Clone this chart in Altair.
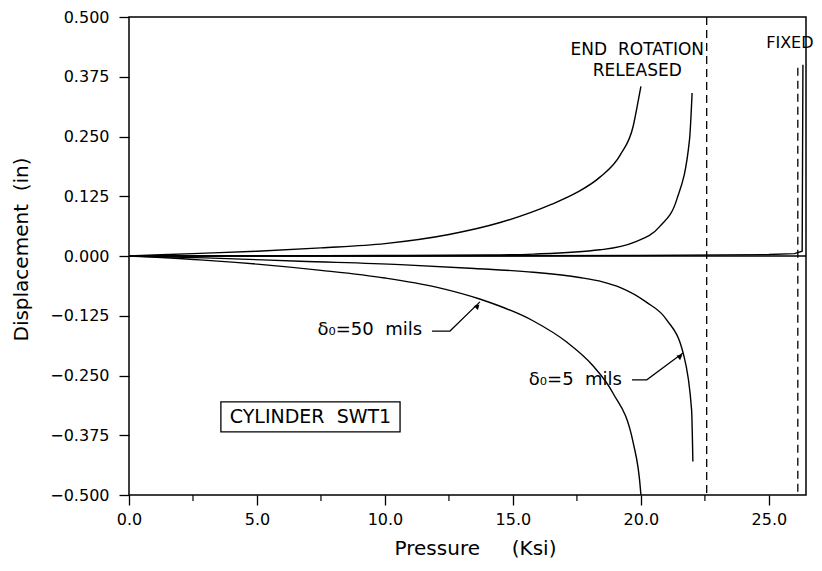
import altair as alt
import pandas as pd

# ---- data ----
# End rotation released, delta0 = 50 mils (positive branch)
rel50_up_x = [0, 2.5, 5, 7.5, 10, 12.5, 14.5, 16.5, 17.5, 18.4, 19.2, 19.7, 19.9, 20.0]
rel50_up_y = [0, 0.005, 0.010, 0.017, 0.026, 0.045, 0.070, 0.108, 0.133, 0.165, 0.212, 0.272, 0.326, 0.355]
# End rotation released, delta0 = 5 mils (positive branch)
rel5_up_x = [0, 5, 10, 14, 15.8, 18.4, 19.7, 20.74, 21.4, 21.9, 22.0]
rel5_up_y = [0, 0.0005, 0.001, 0.002, 0.004, 0.013, 0.028, 0.062, 0.118, 0.244, 0.341]
# End rotation released, delta0 = 50 mils (negative branch)
rel50_dn_x = [0, 2.77, 5, 7.5, 10, 12, 13.7, 15.8, 17.1, 18.1, 18.9, 19.7, 19.99, 20.0]
rel50_dn_y = [0, -0.008, -0.017, -0.030, -0.046, -0.065, -0.090, -0.136, -0.180, -0.228, -0.286, -0.391, -0.493, -0.5]
# End rotation released, delta0 = 5 mils (negative branch)
rel5_dn_x = [0, 3, 6.68, 10.6, 13.5, 15.8, 17.6, 18.5, 19.2, 20.2, 21.0, 21.65, 21.98, 22.03]
rel5_dn_y = [0, -0.004, -0.011, -0.018, -0.026, -0.034, -0.045, -0.054, -0.066, -0.096, -0.133, -0.203, -0.322, -0.430]
# Fixed end, near vertical branch
fix_x = [0, 10, 20, 25, 26.0, 26.3, 26.33]
fix_y = [0, 0, 0.001, 0.003, 0.005, 0.01, 0.40]

# critical pressure (dashed asymptotes)
crit_x = [22.57, 26.13]
crit_top = [0.5, 0.394]
crit_bot = [-0.5, -0.5]

x_ticks = [0, 5, 10, 15, 20, 25]
x_minor = [2.5, 7.5, 12.5, 17.5, 22.5]
y_ticks = [-0.5, -0.375, -0.25, -0.125, 0, 0.125, 0.25, 0.375, 0.5]

FONT = "DejaVu Sans"
NB = "\u00a0"


def to_rows(series):
    rows = []
    for name, xs_, ys_ in series:
        for i, (a, b) in enumerate(zip(xs_, ys_)):
            rows.append({"s": name, "i": i, "p": a, "d": b})
    return pd.DataFrame(rows)


curves = to_rows([("r50u", rel50_up_x, rel50_up_y), ("r5u", rel5_up_x, rel5_up_y),
                  ("r50d", rel50_dn_x, rel50_dn_y), ("r5d", rel5_dn_x, rel5_dn_y)])
fixed = to_rows([("fix", fix_x, fix_y)])

crit = pd.DataFrame({"p": crit_x, "t": crit_top, "b": crit_bot})

# leader lines for labels
lead_rows = []
for name, pts in [("L50", [(11.84, -0.157), (12.54, -0.157), (13.71, -0.096)]),
                  ("L5", [(19.65, -0.259), (20.23, -0.259), (21.64, -0.203)])]:
    for i, (a, b) in enumerate(pts):
        lead_rows.append({"s": name, "i": i, "p": a, "d": b})
leaders = pd.DataFrame(lead_rows)
heads = pd.DataFrame({"p": [13.62, 21.54], "d": [-0.105, -0.210], "ang": [45, 53]})

center_text = pd.DataFrame({
    "p": [19.86, 19.86, 25.82, 7.09],
    "d": [0.430, 0.388, 0.446, -0.337],
    "t": ["END" + NB + NB + "ROTATION", "RELEASED", "FIXED", "CYLINDER" + NB + NB + "SWT1"],
    "fs": [17, 17, 16, 19],
})
right_text = pd.DataFrame({
    "p": [11.45, 19.26],
    "d": [-0.155, -0.259],
    "t": ["δ₀=50" + NB + NB + "mils", "δ₀=5" + NB + NB + "mils"],
})
box = pd.DataFrame({"x1": [3.59], "x2": [10.59], "y1": [-0.305], "y2": [-0.368]})

xs = alt.Scale(domain=[0, 26.45], nice=False, zero=False)
ys = alt.Scale(domain=[-0.5, 0.5], nice=False)

xax = alt.Axis(values=x_ticks, format=".1f", tickSize=10, labelPadding=6, labelFontSize=16,
               labelFont=FONT, labelColor="black", tickColor="black", tickWidth=1.3,
               labelFlush=False, labelOverlap=False,
               domain=False, grid=False,
               title="Pressure" + NB * 5 + "(Ksi)", titleFont=FONT, titleFontSize=20,
               titleFontWeight="normal", titleColor="black",
               titleX=346, titleY=53, titleBaseline="middle", titleAlign="center")
yax = alt.Axis(values=y_ticks, format=".3f", tickSize=10, labelPadding=10, labelFontSize=16,
               labelFont=FONT, labelColor="black", tickColor="black", tickWidth=1.3,
               labelFlush=False, labelOverlap=False,
               domain=False, grid=False,
               title="Displacement" + NB * 2 + "(in)", titleFont=FONT, titleFontSize=20,
               titleFontWeight="normal", titleColor="black",
               titleX=-108, titleY=232, titleBaseline="middle", titleAlign="center", titleAngle=-90)

base_curves = alt.Chart(curves).mark_line(color="black", strokeWidth=1.4,
                                          interpolate="monotone").encode(
    x=alt.X("p:Q", scale=xs, axis=xax),
    y=alt.Y("d:Q", scale=ys, axis=yax),
    detail="s:N",
    order="i:Q",
)

fix_curve = alt.Chart(fixed).mark_line(color="black", strokeWidth=1.4).encode(
    x=alt.X("p:Q", scale=xs), y=alt.Y("d:Q", scale=ys), detail="s:N", order="i:Q")

zero = alt.Chart(pd.DataFrame({"d": [0.0]})).mark_rule(color="black", strokeWidth=1.3).encode(
    y=alt.Y("d:Q", scale=ys))

dashed = alt.Chart(crit).mark_rule(color="black", strokeWidth=1.3, strokeDash=[8, 5]).encode(
    x=alt.X("p:Q", scale=xs), y=alt.Y("t:Q", scale=ys), y2="b:Q")

minor = alt.Chart(pd.DataFrame({"p": x_minor})).mark_rule(color="black", strokeWidth=1.2).encode(
    x=alt.X("p:Q", scale=xs), y=alt.value(478), y2=alt.value(484))

lead = alt.Chart(leaders).mark_line(color="black", strokeWidth=1.2).encode(
    x=alt.X("p:Q", scale=xs), y=alt.Y("d:Q", scale=ys), detail="s:N", order="i:Q")

arrow = alt.Chart(heads).mark_point(shape="triangle-up", filled=True, color="black",
                                    size=35, opacity=1).encode(
    x=alt.X("p:Q", scale=xs), y=alt.Y("d:Q", scale=ys), angle=alt.Angle("ang:Q", scale=None))

ctext = alt.Chart(center_text).mark_text(font=FONT, color="black", align="center",
                                         baseline="middle").encode(
    x=alt.X("p:Q", scale=xs), y=alt.Y("d:Q", scale=ys), text="t:N",
    size=alt.Size("fs:Q", scale=None, legend=None))

rtext = alt.Chart(right_text).mark_text(font=FONT, fontSize=18, color="black", align="right",
                                        baseline="middle").encode(
    x=alt.X("p:Q", scale=xs), y=alt.Y("d:Q", scale=ys), text="t:N")

rect = alt.Chart(box).mark_rect(fill="white", fillOpacity=0, stroke="black", strokeWidth=1.3).encode(
    x=alt.X("x1:Q", scale=xs), x2="x2:Q", y=alt.Y("y1:Q", scale=ys), y2="y2:Q")

chart = alt.layer(zero, base_curves, fix_curve, dashed, minor, lead, arrow, rect, ctext, rtext).properties(
    width=677, height=478,
    padding={"left": 121, "top": 9, "right": 8, "bottom": 64},
    autosize=alt.AutoSizeParams(type="none"),
    background="white",
).configure_view(stroke="black", strokeWidth=1.5)

chart.save("out.html", embed_options={"renderer": "svg", "actions": False})
